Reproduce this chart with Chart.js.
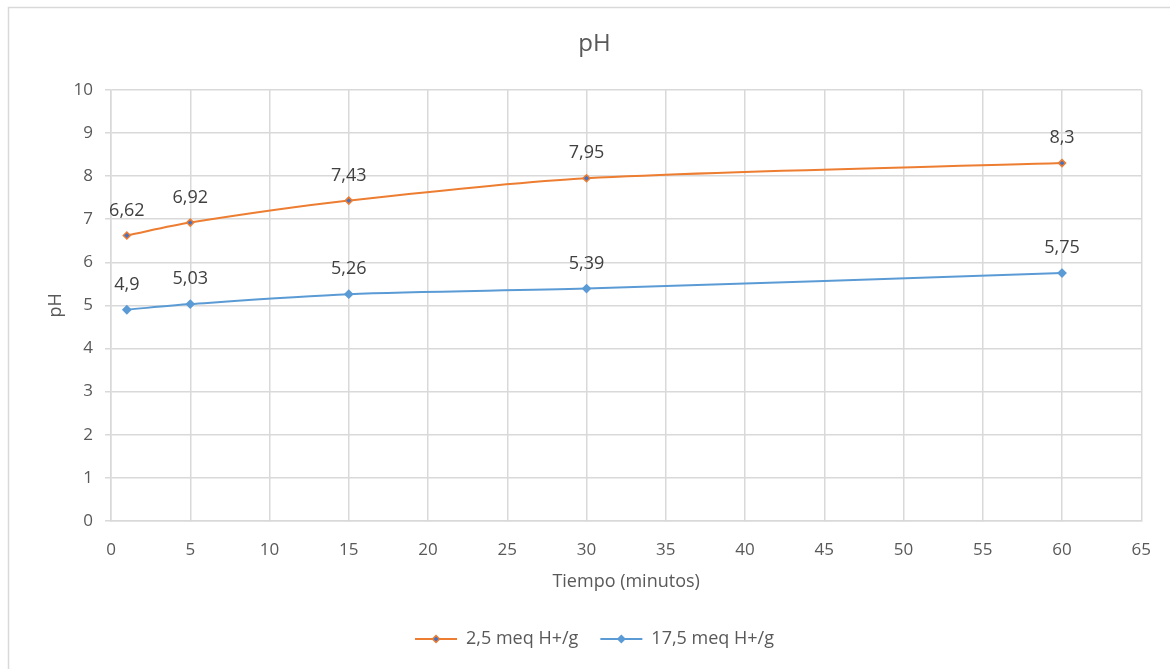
<!DOCTYPE html>
<html>
<head>
<meta charset="utf-8">
<script src="https://cdn.jsdelivr.net/npm/chart.js@4.4.0/dist/chart.umd.min.js"></script>
<style>
  html, body { margin: 0; padding: 0; background: #fff; }
  #wrap { width: 1170px; height: 669px; position: relative; }
</style>
</head>
<body>
<div id="wrap"><canvas id="chart" width="1170" height="669"></canvas></div>
<script>
// time points (minutes)
const tiempo = [1, 5, 15, 30, 60];
// pH values per series
const serieA = [6.62, 6.92, 7.43, 7.95, 8.3];
const serieB = [4.9, 5.03, 5.26, 5.39, 5.75];
const seriesNames = ['2,5 meq H+/g', '17,5 meq H+/g'];

const FONT = "'Open Sans', 'Liberation Sans', sans-serif";
const TXT = '#595959';
const GRID = '#d9d9d9';

const toPoints = vals => tiempo.map((t, i) => ({ x: t, y: vals[i] }));

// labels like "6,62" above each point
const pointLabels = {
  id: 'pointLabels',
  afterDatasetsDraw(chart) {
    const ctx = chart.ctx;
    ctx.save();
    ctx.font = '18px ' + FONT;
    ctx.fillStyle = '#404040';
    ctx.textAlign = 'center';
    ctx.textBaseline = 'middle';
    chart.data.datasets.forEach((ds, di) => {
      chart.getDatasetMeta(di).data.forEach((pt, i) => {
        ctx.fillText(String(ds.data[i].y).replace('.', ','), pt.x, pt.y - 25);
      });
    });
    ctx.restore();
  }
};

// thin frame round the chart
const frame = {
  id: 'frame',
  beforeDraw(chart) {
    const ctx = chart.ctx;
    ctx.save();
    ctx.strokeStyle = '#d9d9d9';
    ctx.lineWidth = 1.5;
    ctx.strokeRect(8.5, 7.5, 1200, 700);
    ctx.restore();
  }
};

// small diamonds on the legend lines
const legendMarks = {
  id: 'legendMarks',
  afterDraw(chart) {
    const ctx = chart.ctx;
    const lg = chart.legend;
    ctx.save();
    lg.legendHitBoxes.forEach((hb, i) => {
      const ds = chart.data.datasets[i];
      const cx = hb.left + 21, cy = hb.top + hb.height / 2;
      ctx.fillStyle = ds.pointBackgroundColor;
      ctx.strokeStyle = ds.pointBorderColor;
      ctx.lineWidth = 1.5;
      ctx.beginPath();
      ctx.moveTo(cx, cy - 3.5); ctx.lineTo(cx + 3.5, cy); ctx.lineTo(cx, cy + 3.5); ctx.lineTo(cx - 3.5, cy);
      ctx.closePath(); ctx.fill(); ctx.stroke();
    });
    ctx.restore();
  }
};

new Chart(document.getElementById('chart'), {
  type: 'line',
  data: {
    datasets: [
      {
        label: seriesNames[0],
        data: toPoints(serieA),
        borderColor: '#ED7D31',
        backgroundColor: '#ED7D31',
        pointBackgroundColor: '#4472C4',
        pointBorderColor: '#ED7D31',
        pointBorderWidth: 1.5,
        borderWidth: 2,
        pointStyle: 'rectRot',
        pointRadius: 3.5,
        tension: 0.3
      },
      {
        label: seriesNames[1],
        data: toPoints(serieB),
        borderColor: '#5B9BD5',
        backgroundColor: '#5B9BD5',
        pointBackgroundColor: '#5B9BD5',
        pointBorderColor: '#5B9BD5',
        borderWidth: 2,
        pointStyle: 'rectRot',
        pointRadius: 3.5,
        tension: 0.3
      }
    ]
  },
  options: {
    responsive: false,
    animation: false,
    layout: { padding: { left: 45, right: 26, top: 0, bottom: 11 } },
    scales: {
      x: {
        type: 'linear',
        min: 0,
        max: 65,
        ticks: { stepSize: 5, color: TXT, font: { family: FONT, size: 17 }, padding: 19, maxRotation: 0 },
        grid: { color: GRID, lineWidth: 1.5, tickLength: 0 },
        border: { color: GRID, width: 1.5 },
        title: { display: true, text: 'Tiempo (minutos)', color: TXT, font: { family: FONT, size: 18 }, padding: { top: 6, bottom: 15 } },
        afterFit(scale) { scale.height = 87; }
      },
      y: {
        min: 0,
        max: 10,
        ticks: { stepSize: 1, color: TXT, font: { family: FONT, size: 17 }, padding: 12 },
        grid: { color: GRID, lineWidth: 1.5, tickLength: 6 },
        border: { color: GRID, width: 1.5 },
        title: { display: true, text: 'pH', color: TXT, font: { family: FONT, size: 18 }, padding: 0 },
        afterFit(scale) { scale.width = 66; }
      }
    },
    plugins: {
      title: {
        display: true,
        text: 'pH',
        color: TXT,
        font: { family: FONT, size: 24, weight: 'normal' },
        padding: { top: 30, bottom: 31 }
      },
      legend: {
        position: 'bottom',
        labels: {
          color: TXT,
          font: { family: FONT, size: 18 },
          padding: 22,
          usePointStyle: false,
          boxWidth: 42,
          boxHeight: 0,
          generateLabels(chart) {
            return chart.data.datasets.map((ds, i) => ({
              text: ds.label,
              fillStyle: ds.borderColor,
              strokeStyle: ds.borderColor,
              lineWidth: 2,
              fontColor: TXT,
              datasetIndex: i
            }));
          }
        }
      },
      tooltip: { enabled: false }
    }
  },
  plugins: [frame, pointLabels, legendMarks]
});
</script>
</body>
</html>
